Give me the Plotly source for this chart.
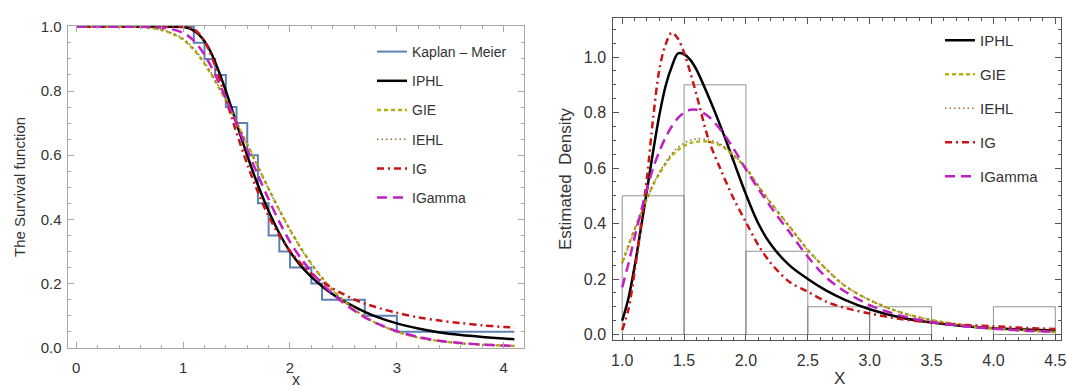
import plotly.graph_objects as go

W, H = 1067, 390

# ---------------- Left panel: survival functions ----------------
km_time = [0, 1.1, 1.2, 1.3, 1.4, 1.5, 1.6, 1.7, 1.8, 1.9, 2.0, 2.2, 2.3, 2.7, 3.0, 4.1]
km_surv = [1.0, 0.95, 0.90, 0.85, 0.75, 0.70, 0.60, 0.45, 0.35, 0.30, 0.25, 0.20, 0.15, 0.10, 0.05, 0.05]

surv_x = [0, 0.5, 0.6, 0.7, 0.8, 0.9,
          1.0, 1.05, 1.1, 1.15, 1.2, 1.25, 1.3, 1.35, 1.4, 1.45, 1.5,
          1.6, 1.7, 1.8, 1.9, 2.0, 2.1, 2.2, 2.3, 2.4, 2.5, 2.6, 2.7, 2.8,
          3.0, 3.2, 3.4, 3.6, 3.8, 4.0, 4.1]
surv_iphl = [1, 1, 1, 1, 1, 1,
             0.999, 0.996, 0.988, 0.975, 0.955, 0.927, 0.890, 0.847, 0.800, 0.750, 0.699,
             0.599, 0.507, 0.426, 0.357, 0.300, 0.256, 0.221, 0.192, 0.167, 0.146, 0.128, 0.112, 0.098,
             0.076, 0.060, 0.048, 0.040, 0.034, 0.029, 0.027]
surv_gie = [1.0, 1.0, 0.999, 0.996, 0.990, 0.978,
            0.960, 0.945, 0.928, 0.908, 0.885, 0.859, 0.831, 0.801, 0.770, 0.737, 0.703,
            0.634, 0.565, 0.496, 0.430, 0.368, 0.312, 0.262, 0.218, 0.180, 0.148, 0.120, 0.097, 0.078,
            0.050, 0.032, 0.021, 0.014, 0.010, 0.007, 0.006]
surv_iehl = [1.0, 1.0, 0.9995, 0.997, 0.991, 0.980,
             0.963, 0.949, 0.932, 0.912, 0.889, 0.863, 0.834, 0.804, 0.772, 0.738, 0.703,
             0.633, 0.563, 0.494, 0.428, 0.366, 0.310, 0.261, 0.217, 0.179, 0.147, 0.120, 0.097, 0.078,
             0.050, 0.032, 0.021, 0.014, 0.010, 0.007, 0.006]
surv_ig = [1, 1, 1, 1, 1, 1,
           1.0, 0.998, 0.992, 0.978, 0.955, 0.921, 0.878, 0.829, 0.775, 0.722, 0.670,
           0.572, 0.485, 0.410, 0.350, 0.302, 0.263, 0.232, 0.206, 0.185, 0.167, 0.151, 0.138, 0.127,
           0.109, 0.095, 0.085, 0.077, 0.070, 0.065, 0.063]
surv_igamma = [1.0, 1.0, 1.0, 0.999, 0.997, 0.992,
               0.981, 0.971, 0.957, 0.937, 0.913, 0.884, 0.851, 0.815, 0.777, 0.738, 0.698,
               0.617, 0.538, 0.463, 0.393, 0.330, 0.280, 0.237, 0.200, 0.168, 0.140, 0.116, 0.095, 0.078,
               0.052, 0.034, 0.022, 0.015, 0.010, 0.007, 0.006]

# ---------------- Right panel: histogram + densities ----------------
hist_left = [1.0, 1.5, 2.0, 2.5, 3.0, 4.0]
hist_density = [0.5, 0.9, 0.3, 0.1, 0.1, 0.1]
bin_width = 0.5

dens_x = [1.0, 1.05, 1.1, 1.15, 1.2, 1.25, 1.3, 1.35, 1.4, 1.45, 1.5, 1.55, 1.6, 1.7, 1.8,
          1.9, 2.0, 2.1, 2.2, 2.35, 2.5, 2.65, 2.8, 3.0, 3.25, 3.5, 3.75, 4.0, 4.25, 4.5]
dens_iphl = [0.05, 0.13, 0.245, 0.38, 0.52, 0.66, 0.79, 0.895, 0.965, 1.013, 1.010, 0.990, 0.955,
             0.855, 0.745, 0.625, 0.505, 0.400, 0.325, 0.250, 0.200, 0.158, 0.125, 0.091, 0.061,
             0.043, 0.031, 0.023, 0.018, 0.014]
dens_gie = [0.26, 0.32, 0.38, 0.435, 0.49, 0.54, 0.58, 0.615, 0.645, 0.665, 0.68, 0.69, 0.695,
            0.695, 0.68, 0.645, 0.60, 0.535, 0.475, 0.39, 0.305, 0.235, 0.175, 0.124, 0.08,
            0.052, 0.034, 0.021, 0.014, 0.009]
dens_iehl = [0.255, 0.315, 0.375, 0.433, 0.488, 0.54, 0.583, 0.62, 0.652, 0.674, 0.69, 0.70, 0.705,
             0.702, 0.685, 0.648, 0.60, 0.535, 0.475, 0.39, 0.305, 0.235, 0.176, 0.124, 0.079,
             0.052, 0.034, 0.022, 0.014, 0.010]
dens_ig = [0.016, 0.09, 0.225, 0.39, 0.565, 0.78, 0.955, 1.045, 1.088, 1.067, 1.015, 0.945, 0.865,
           0.70, 0.59, 0.49, 0.405, 0.322, 0.258, 0.19, 0.154, 0.118, 0.096, 0.076, 0.056,
           0.043, 0.035, 0.030, 0.024, 0.020]
dens_igamma = [0.17, 0.255, 0.35, 0.44, 0.525, 0.60, 0.66, 0.71, 0.75, 0.78, 0.80, 0.81, 0.81,
               0.785, 0.735, 0.67, 0.595, 0.525, 0.46, 0.37, 0.28, 0.205, 0.155, 0.106, 0.068,
               0.045, 0.031, 0.021, 0.014, 0.010]

# ---------------- Styles ----------------
C_KM = '#5E81B5'
C_IPHL = '#000000'
C_GIE = '#B2B214'
C_IEHL = '#9A6A3A'
C_IG = '#C81414'
C_IGAMMA = '#C21FC2'

styles = {
    'IPHL': dict(color=C_IPHL, width=2.5, dash='solid'),
    'GIE': dict(color=C_GIE, width=2.5, dash='4px,3px'),
    'IEHL': dict(color=C_IEHL, width=1.5, dash='1.5px,3px'),
    'IG': dict(color=C_IG, width=2.5, dash='7px,4px,2px,4px'),
    'IGamma': dict(color=C_IGAMMA, width=2.5, dash='10px,6px'),
}

fig = go.Figure()

# left panel
fig.add_trace(go.Scatter(x=km_time, y=km_surv, mode='lines', name='Kaplan – Meier',
                         line=dict(color=C_KM, width=2, shape='hv'),
                         legend='legend', legendgroup='km'))
for name, ys in [('IPHL', surv_iphl), ('GIE', surv_gie), ('IEHL', surv_iehl),
                 ('IG', surv_ig), ('IGamma', surv_igamma)]:
    st = styles[name]
    fig.add_trace(go.Scatter(x=surv_x, y=ys, mode='lines', name=name,
                             line=dict(color=st['color'], width=st['width'], dash=st['dash'],
                                       shape='spline', smoothing=0.9),
                             legend='legend', legendgroup='L' + name))

# right panel
fig.add_trace(go.Bar(x=hist_left, y=hist_density, width=bin_width, offset=0,
                     marker=dict(color='rgba(255,255,255,0)',
                                 line=dict(color='rgba(110,110,110,0.75)', width=1)),
                     showlegend=False, xaxis='x2', yaxis='y2'))
for name, ys in [('IPHL', dens_iphl), ('GIE', dens_gie), ('IEHL', dens_iehl),
                 ('IG', dens_ig), ('IGamma', dens_igamma)]:
    st = styles[name]
    fig.add_trace(go.Scatter(x=dens_x, y=ys, mode='lines', name=name,
                             line=dict(color=st['color'], width=st['width'], dash=st['dash'],
                                       shape='spline', smoothing=0.9),
                             xaxis='x2', yaxis='y2', legend='legend2', legendgroup='R' + name))

TXT = '#333333'
frame_l = '#A8A8A8'
frame_r = '#555555'


def px_x(p):
    return p / W


def px_y(p):
    return 1 - p / H


def axis(frame, dtick, minor_dtick, fmt, size, rng, domain, tick0=0, **kw):
    d = dict(range=rng, domain=domain, showgrid=False, zeroline=False, automargin=False,
             showline=True, linecolor=frame, linewidth=1, mirror='allticks',
             ticks='inside', ticklen=6, tickwidth=1, tickcolor=frame,
             dtick=dtick, tick0=tick0, tickformat=fmt, ticklabeloverflow='allow',
             tickfont=dict(size=size, color=TXT),
             minor=dict(ticks='inside', ticklen=3, tickwidth=1, tickcolor=frame,
                        dtick=minor_dtick, tick0=tick0, showgrid=False))
    d.update(kw)
    return d


fig.update_layout(
    width=W, height=H, margin=dict(l=0, r=0, t=0, b=0, autoexpand=False),
    paper_bgcolor='white', plot_bgcolor='white',
    font=dict(family='Liberation Sans, Arial, sans-serif', color=TXT),
    showlegend=True,
    xaxis=axis(frame_l, 1, 0.2, 'd', 15, [-0.082, 4.19], [px_x(67.5), px_x(524)], anchor='y',
               ticklabelstandoff=6),
    yaxis=axis(frame_l, 0.2, 0.05, '.1f', 15, [-0.0015, 1.0025], [px_y(348.3), px_y(26)], anchor='x',
               ticklabelstandoff=2),
    xaxis2=axis(frame_r, 0.5, 0.1, '.1f', 16, [0.928, 4.542], [px_x(613.3), px_x(1060.5)], tick0=1.0,
                anchor='y2', ticklabelstandoff=6),
    yaxis2=axis(frame_r, 0.2, 0.05, '.1f', 16, [-0.0198, 1.142], [px_y(340), px_y(17.7)], anchor='x2',
                ticklabelstandoff=3),
    legend=dict(x=px_x(372), y=px_y(36), xanchor='left', yanchor='top',
                font=dict(size=14, color=TXT), bgcolor='rgba(0,0,0,0)',
                traceorder='grouped', tracegroupgap=8, itemwidth=30),
    legend2=dict(x=px_x(940), y=px_y(24), xanchor='left', yanchor='top',
                 font=dict(size=15, color=TXT), bgcolor='rgba(0,0,0,0)',
                 traceorder='grouped', tracegroupgap=11.5, itemwidth=30),
    annotations=[
        dict(text='The Survival function', x=px_x(19), y=px_y(187), xref='paper', yref='paper',
             textangle=-90, showarrow=False, font=dict(size=15, color=TXT),
             xanchor='center', yanchor='middle'),
        dict(text='x', x=px_x(296), y=0, xref='paper', yref='paper',
             showarrow=False, font=dict(size=16, color=TXT), xanchor='center', yanchor='bottom'),
        dict(text='Estimated  Density', x=px_x(566), y=px_y(179), xref='paper', yref='paper',
             textangle=-90, showarrow=False, font=dict(size=17, color=TXT),
             xanchor='center', yanchor='middle'),
        dict(text='X', x=px_x(839), y=0, xref='paper', yref='paper',
             showarrow=False, font=dict(size=17, color=TXT), xanchor='center', yanchor='bottom'),
    ],
)

fig.write_html('out.html')
